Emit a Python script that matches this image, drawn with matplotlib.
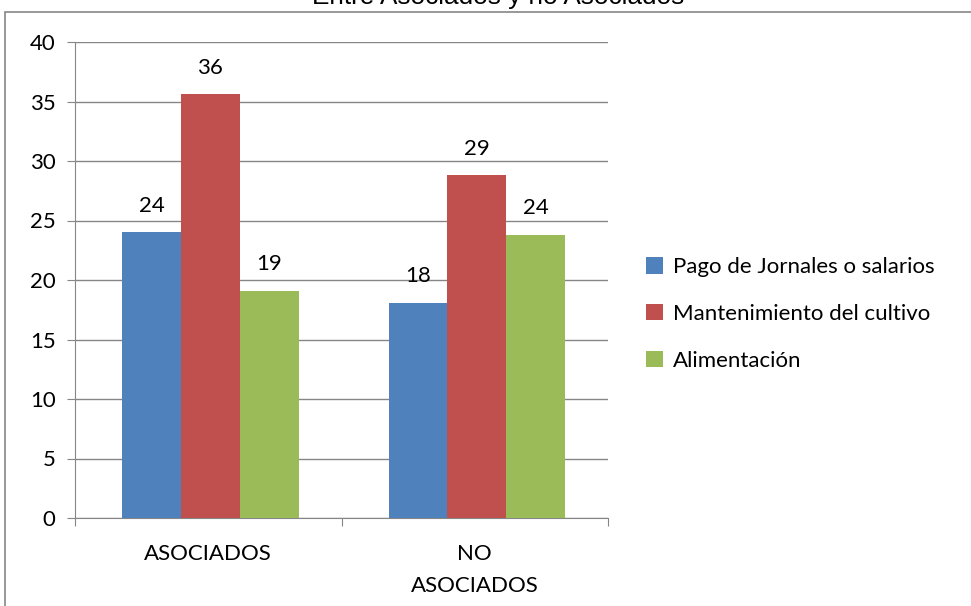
import numpy as np
import matplotlib.pyplot as plt
from matplotlib.patches import Rectangle

# data
categories = ['ASOCIADOS', 'NO\nASOCIADOS']
series_names = ['Pago de Jornales o salarios', 'Mantenimiento del cultivo', 'Alimentación']
pago = [24.0, 18.1]
mantenimiento = [35.6, 28.8]
alimentacion = [19.1, 23.8]
colors = ['#4f81bd', '#c0504d', '#9bbb59']

plt.rcParams['font.family'] = ['Lato', 'DejaVu Sans']

fig = plt.figure(figsize=(9.71, 6.06), dpi=100)
W, H = 971, 606

# outer chart frame (runs off the right and bottom edges)
fig.patches.append(Rectangle((5 / W, -0.05), 1.0, 1 - 12 / H + 0.05,
                             transform=fig.transFigure, fill=False,
                             edgecolor='#868686', linewidth=1.2))

fig.text(498 / W, 1 - 4 / H, 'Entre Asociados y no Asociados',
         ha='center', va='baseline', fontsize=18.8, family='Liberation Sans')

ax = fig.add_axes([75 / W, 1 - 518 / H, (608 - 75) / W, (518 - 42) / H])

x = np.arange(len(categories))
width = 0.221
for i, (vals, name) in enumerate(zip([pago, mantenimiento, alimentacion], series_names)):
    pos = x + (i - 1) * width + 0.008
    bars = ax.bar(pos, vals, width, color=colors[i], label=name, zorder=3)
    for b, v in zip(bars, vals):
        ax.text(b.get_x() + b.get_width() / 2, v + 1.4, f'{v:.0f}',
                ha='center', va='bottom', fontsize=16)

ax.set_xlim(-0.5, 1.5)
ax.set_ylim(0, 40)
ax.set_yticks(range(0, 41, 5))
ax.yaxis.grid(True, color='#868686', linewidth=1, zorder=0)

ax.set_xticks([-0.5, 0.5, 1.5])
ax.set_xticklabels([])
ax.set_xticks(x, minor=True)
ax.set_xticklabels(categories, minor=True, fontsize=16, linespacing=1.7)
ax.tick_params(axis='x', which='minor', length=0, pad=19)
ax.tick_params(axis='x', which='major', length=6, color='#868686')
ax.tick_params(axis='y', length=6, color='#868686', labelsize=16, pad=8)

for s in ['top', 'right']:
    ax.spines[s].set_visible(False)
ax.spines['left'].set_color('#868686')
ax.spines['bottom'].set_color('#868686')

ax.legend(loc='center left', bbox_to_anchor=(626 / W, 1 - 314 / H),
          bbox_transform=fig.transFigure, frameon=False, fontsize=16,
          handlelength=0.75, handleheight=0.75, handletextpad=0.45, labelspacing=1.2)

fig.savefig('out.png', dpi=100)
